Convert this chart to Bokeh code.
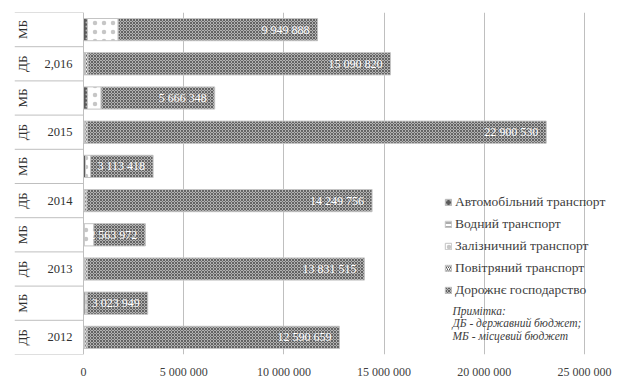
import numpy as np
from bokeh.plotting import figure
from bokeh.models import Range1d, FixedTicker, Label
from bokeh.core.properties import value
from bokeh.embed import file_html
from bokeh.resources import INLINE

# rows from bottom to top
budget = ["ДБ", "МБ", "ДБ", "МБ", "ДБ", "МБ", "ДБ", "МБ", "ДБ", "МБ"]
years = ["2012", "", "2013", "", "2014", "", "2015", "", "2,016", ""]

auto = [50000, 80000, 60000, 40000, 50000, 100000, 60000, 200000, 70000, 200000]
water = [20000, 0, 20000, 0, 20000, 0, 20000, 0, 20000, 0]
rail = [0, 100000, 0, 480000, 0, 260000, 0, 680000, 0, 1530000]
air = [110000, 0, 110000, 0, 80000, 0, 110000, 0, 140000, 0]
road = [12590659, 3023949, 13831515, 2563972, 14249756, 3113418, 22900530, 5666348, 15090820, 9949888]

series_names = ["Автомобільний транспорт", "Водний транспорт", "Залізничний транспорт",
                "Повітряний транспорт", "Дорожнє господарство"]
x_ticks = [0, 5000000, 10000000, 15000000, 20000000, 25000000]

FONT = "'Liberation Serif', 'Times New Roman', serif"
TXT = "#404040"

px_per_unit = 20.04 / 1e6
x_start = -69 / px_per_unit
x_end = 25e6 + 36 / px_per_unit

p = figure(width=622, height=381, output_backend="svg", toolbar_location=None,
           x_range=Range1d(x_start, x_end), y_range=Range1d(-0.5, 9.5),
           y_axis_location=None, min_border_left=14, min_border_right=2,
           min_border_top=12, min_border_bottom=19)
p.outline_line_color = None
p.background_fill_color = "white"

ticker = FixedTicker(ticks=x_ticks)
p.xaxis.ticker = ticker
p.xgrid.ticker = ticker
p.xgrid.grid_line_color = "#bfbfbf"
p.xgrid.grid_line_width = 1
p.ygrid.visible = False
p.xaxis.axis_line_color = None
p.xaxis.major_tick_line_color = None
p.xaxis.minor_tick_line_color = None
p.xaxis.major_label_standoff = 4
p.xaxis.major_label_text_font = FONT
p.xaxis.major_label_text_font_size = "12px"
p.xaxis.major_label_text_color = TXT
p.xaxis.major_label_overrides = {t: f"{t:,}".replace(",", " ") for t in x_ticks}

n = len(budget)
rows = np.arange(n)

# left category area separators
bounds = np.arange(n + 1) - 0.5
p.segment(x0=[x_start] * (n + 1), y0=bounds, x1=[0] * (n + 1), y1=bounds,
          line_color="#bfbfbf", line_width=1)

styles = [
    dict(fill_color="#5a5a5a", hatch_pattern="dot", hatch_color="#b5b5b5", hatch_scale=4, hatch_weight=1),
    dict(fill_color="white", hatch_pattern="horizontal_line", hatch_color="#595959", hatch_scale=4, hatch_weight=1),
    dict(fill_color="white", hatch_pattern="dot", hatch_color="#a0a0a0", hatch_scale=9, hatch_weight=0.4, hatch_alpha=0.6),
    dict(fill_color="white", hatch_pattern="right_diagonal_line", hatch_color="#595959", hatch_scale=4, hatch_weight=1),
    dict(fill_color="#b2b2b2", hatch_pattern="diagonal_cross", hatch_color="#636363", hatch_scale=3, hatch_weight=1),
]
data = [auto, water, rail, air, road]

left = np.zeros(n)
for name, vals, st in zip(series_names, data, styles):
    vals = np.array(vals, dtype=float)
    right = left + vals
    m = vals > 0
    p.hbar(y=rows[m], left=left[m], right=right[m], height=0.65,
           line_color="#c4c4c4", line_width=1, legend_label=name, **st)
    left = right

totals = left
labels = [f"{v:,}".replace(",", " ") for v in road]
p.text(x=totals, y=rows, text=labels, text_font=value(FONT), text_font_size="12px",
       text_color="white", text_align="right", text_baseline="middle", x_offset=-8)

# category labels
p.text(x=[0] * n, y=rows, text=budget, angle=np.pi / 2, text_font=value(FONT),
       text_font_size="13px", text_color="#303030", text_align="center",
       text_baseline="middle", x_offset=-61)
p.text(x=[0] * n, y=rows, text=years, text_font=value(FONT),
       text_font_size="12.5px", text_color="#303030", text_align="right",
       text_baseline="middle", x_offset=-11)

lg = p.legend[0]
lg.location = (430, 56)
lg.background_fill_alpha = 0
lg.border_line_color = None
lg.padding = 0
lg.margin = 0
lg.spacing = 6
lg.glyph_width = 8
lg.glyph_height = 8
lg.label_height = 16
lg.label_standoff = 3
lg.label_text_font = FONT
lg.label_text_font_size = "13.5px"
lg.label_text_color = TXT

note = ["Примітка:", "ДБ - державний бюджет;", "МБ - місцевий бюджет"]
for i, t in enumerate(note):
    p.add_layout(Label(x=18.41e6, y=0.77 - i * 0.363, text=t, text_font=FONT,
                       text_font_style="italic", text_font_size="11.5px",
                       text_color=TXT, text_baseline="middle"))

open("out.html", "w").write(file_html(p, INLINE))
